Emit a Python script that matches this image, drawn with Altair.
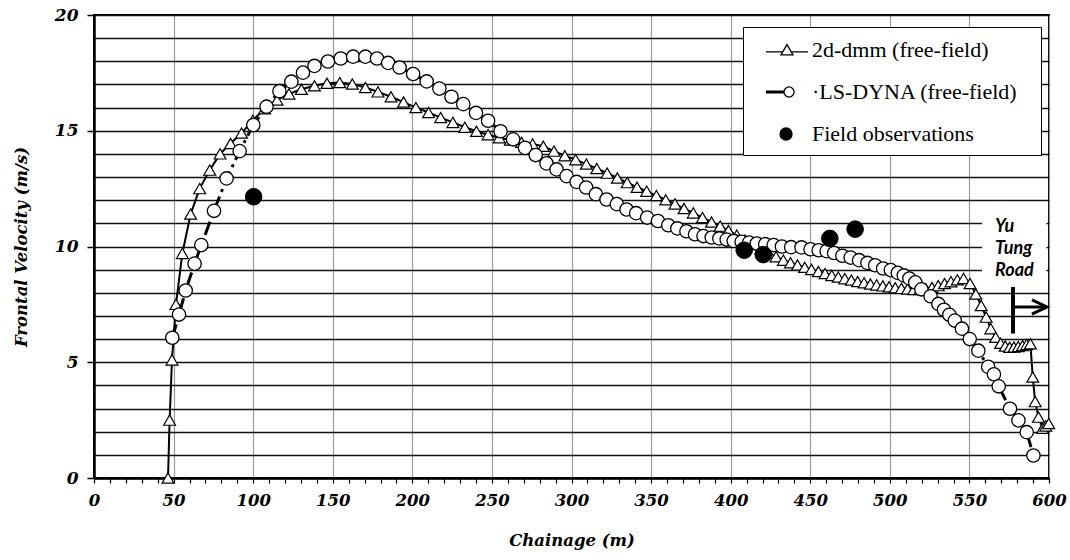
import altair as alt
import pandas as pd

# ---------------- data ----------------
DMM_X = [46.5, 47.5, 49.0, 51.5, 55.5, 60.7, 66.4, 72.7, 79.2, 85.8,
         92.7, 99.8, 107.2, 115.0, 122.5, 130.3, 138.5, 146.4, 154.4, 162.3,
         170.5, 178.4, 186.6, 194.5, 202.2, 210.2, 217.8, 225.5, 233.0, 240.3,
         247.6, 254.6, 261.6, 268.6, 275.5, 282.3, 289.0, 295.8, 302.6, 309.3,
         315.9, 322.4, 328.8, 335.0, 341.2, 347.2, 353.3, 359.2, 365.0, 370.7,
         376.5, 382.3, 388.0, 393.4, 398.6, 403.8, 409.0, 414.0, 419.0, 423.8,
         428.5, 433.1, 437.6, 442.0, 446.5, 450.8, 455.1, 459.3, 463.5, 467.6,
         471.7, 475.8, 479.8, 483.8, 487.8, 491.7, 495.6, 499.5, 503.4, 507.3,
         511.1, 515.0, 518.8, 522.6, 526.5, 530.4, 534.4, 538.4, 542.4, 546.3,
         550.4, 554.0, 557.4, 560.5, 563.4, 566.5, 569.6, 572.5, 575.3, 578.0,
         580.7, 583.4, 586.0, 588.3, 589.8, 591.3, 593.4, 596.0, 598.0, 599.8]
DMM_V = [0.0, 2.5, 5.1, 7.5, 9.7, 11.4, 12.5, 13.3, 14.0, 14.45,
         14.9, 15.45, 15.95, 16.33, 16.59, 16.79, 16.94, 17.05, 17.08, 17.02,
         16.87, 16.68, 16.47, 16.24, 16.0, 15.79, 15.57, 15.36, 15.15, 14.98,
         14.83, 14.7, 14.6, 14.5, 14.43, 14.33, 14.12, 13.92, 13.75, 13.56,
         13.37, 13.17, 12.96, 12.76, 12.56, 12.39, 12.2, 12.02, 11.84, 11.64,
         11.45, 11.25, 11.06, 10.88, 10.69, 10.49, 10.28, 10.08, 9.9, 9.72,
         9.56, 9.41, 9.3, 9.2, 9.1, 9.01, 8.92, 8.83, 8.75, 8.68,
         8.61, 8.55, 8.49, 8.43, 8.38, 8.34, 8.3, 8.26, 8.22, 8.19,
         8.16, 8.14, 8.14, 8.17, 8.23, 8.31, 8.4, 8.48, 8.56, 8.62,
         8.4, 7.95, 7.45, 6.95, 6.45, 6.08, 5.82, 5.7, 5.65, 5.66,
         5.68, 5.72, 5.77, 5.8, 4.36, 3.3, 2.63, 2.15, 2.25, 2.35]

LS_X = [49.2, 53.4, 57.6, 63.2, 67.4, 75.4, 83.3, 91.5, 100.1, 108.4,
        116.5, 124.0, 131.3, 138.5, 147.0, 155.0, 162.8, 170.5, 177.8, 184.8,
        192.0, 200.5, 209.0, 217.0, 224.6, 232.0, 240.0, 247.6, 255.4, 263.3,
        270.8, 277.5, 284.3, 290.6, 296.9, 303.2, 309.2, 315.3, 322.0, 328.5,
        334.6, 340.6, 347.5, 354.3, 360.8, 366.5, 372.2, 377.6, 382.9, 388.1,
        392.9, 397.5, 401.9, 406.9, 411.6, 416.4, 421.7, 427.0, 432.2, 438.0,
        444.5, 450.2, 455.3, 460.3, 465.0, 470.2, 475.4, 480.7, 485.9, 490.8,
        495.8, 500.6, 505.0, 508.8, 512.3, 516.0, 519.8, 525.6, 530.5, 534.0,
        537.4, 540.8, 545.3, 550.2, 555.6, 561.8, 565.4, 568.4, 575.5, 580.8,
        586.0, 590.2]
LS_V = [6.06, 7.06, 8.1, 9.26, 10.06, 11.54, 12.94, 14.12, 15.25, 16.04,
        16.71, 17.12, 17.51, 17.8, 17.99, 18.12, 18.2, 18.2, 18.12, 17.93,
        17.73, 17.45, 17.13, 16.82, 16.47, 16.15, 15.77, 15.43, 14.98, 14.63,
        14.26, 13.95, 13.59, 13.33, 13.04, 12.79, 12.55, 12.26, 12.03, 11.83,
        11.6, 11.44, 11.25, 11.1, 10.92, 10.78, 10.66, 10.53, 10.45, 10.39,
        10.35, 10.3, 10.24, 10.2, 10.17, 10.13, 10.1, 10.06, 10.0, 9.97,
        9.96, 9.88, 9.84, 9.8, 9.72, 9.6, 9.52, 9.41, 9.29, 9.19,
        9.05, 8.98, 8.86, 8.75, 8.62, 8.45, 8.15, 7.85, 7.52, 7.27,
        7.05, 6.8, 6.45, 6.0, 5.5, 4.8, 4.48, 3.96, 2.99, 2.49,
        1.98, 0.97]

OBS_X = [100.3, 408.5, 420.5, 462.3, 478.2]
OBS_V = [12.15, 9.84, 9.65, 10.35, 10.75]

SERIES = ["2d-dmm (free-field)", "LS-DYNA (free-field)", "Field observations"]

X_MAJOR = list(range(0, 601, 50))
X_MINOR = list(range(0, 601, 10))
Y_MAJOR = [0, 5, 10, 15, 20]
Y_GRID = list(range(0, 21))

# annotation ("Yu Tung Road") anchor, in data units
ROAD_TEXT = "Yu\nTung\nRoad"
ROAD_X = 566.1
ROAD_TEXT_Y = 10.83
ROAD_BAR = (577.4, 6.24, 8.25)       # x, y from, y to
ROAD_ARROW = (577.4, 598.5, 7.39)    # x from, x to, y
ROAD_HEAD = (594.0, 7.39)
ROAD_BOX = (557.9, 598.4, 8.5, 11.5)

# ---------------- tables ----------------
dmm = pd.DataFrame({"x": DMM_X, "v": DMM_V})
ls = pd.DataFrame({"x": LS_X, "v": LS_V})
obs = pd.DataFrame({"x": OBS_X, "v": OBS_V})
leg = pd.DataFrame({"series": SERIES})
road_txt = pd.DataFrame({"x": [ROAD_X], "v": [ROAD_TEXT_Y], "t": [ROAD_TEXT]})
road_bar = pd.DataFrame({"x": [ROAD_BAR[0]], "v": [ROAD_BAR[1]], "v2": [ROAD_BAR[2]]})
road_arrow = pd.DataFrame({"x": [ROAD_ARROW[0]], "x2": [ROAD_ARROW[1]], "v": [ROAD_ARROW[2]]})
road_head = pd.DataFrame({"x": [ROAD_HEAD[0]], "v": [ROAD_HEAD[1]]})
road_box = pd.DataFrame({"x": [ROAD_BOX[0]], "x2": [ROAD_BOX[1]], "v": [ROAD_BOX[2]], "v2": [ROAD_BOX[3]]})

SERIF = "Liberation Serif"
BI_FONT = "DejaVu Serif"
XS = alt.Scale(domain=[0, 600], nice=False, zero=False)
YS = alt.Scale(domain=[0, 20], nice=False)

x_main = alt.Axis(values=X_MAJOR, orient="bottom", grid=True, gridColor="#9a9a9a", gridWidth=1.2,
                  ticks=False, labelPadding=14, labelFont=BI_FONT, labelFontSize=16.5,
                  labelFontStyle="italic", labelFontWeight="bold", labelColor="black",
                  labelFlush=False, labelOverlap=False,
                  domain=True, domainColor="black", domainWidth=2.5,
                  title="Chainage (m)", titleFont=BI_FONT, titleFontSize=16.5, titleFontStyle="italic",
                  titleFontWeight="bold", titleColor="black", titlePadding=24)
x_minor = alt.Axis(values=X_MINOR, orient="bottom", grid=False, ticks=True, tickSize=5,
                   tickColor="black", tickWidth=1.2, labels=False, domain=False, title=None)
y_main = alt.Axis(values=Y_GRID, orient="left", grid=True, gridColor="#111111", gridWidth=1.4,
                  ticks=False, labels=False, domain=True, domainColor="black", domainWidth=2.5,
                  title=None)
y_major = alt.Axis(values=Y_MAJOR, orient="left", grid=False, ticks=True, tickSize=7,
                   tickColor="black", tickWidth=1.5, labelPadding=9, labelFont=BI_FONT,
                   labelFontSize=17, labelFontStyle="italic", labelFontWeight="bold",
                   labelColor="black", labelFlush=False, domain=False,
                   title="Frontal Velocity (m/s)", titleFont=BI_FONT, titleFontSize=16.5,
                   titleFontStyle="italic", titleFontWeight="bold", titleColor="black",
                   titlePadding=25)

# white box behind the road label
box = alt.Chart(road_box).mark_rect(fill="white").encode(
    x=alt.X("x:Q", scale=XS, axis=None), x2="x2:Q",
    y=alt.Y("v:Q", scale=YS, axis=None), y2="v2:Q")

dmm_line = alt.Chart(dmm).mark_line(color="black", strokeWidth=2).encode(
    x=alt.X("x:Q", scale=XS, axis=x_main),
    y=alt.Y("v:Q", scale=YS, axis=y_main))
dmm_pts = alt.Chart(dmm).mark_point(shape="triangle-up", size=140, filled=True, fill="white",
                                    stroke="black", strokeWidth=1.2, opacity=1).encode(
    x=alt.X("x:Q", scale=XS, axis=x_minor),
    y=alt.Y("v:Q", scale=YS, axis=y_major))

ls_line = alt.Chart(ls).mark_line(color="black", strokeWidth=3, strokeDash=[14, 5, 3, 5]).encode(
    x=alt.X("x:Q", scale=XS, axis=None),
    y=alt.Y("v:Q", scale=YS, axis=None))
ls_pts = alt.Chart(ls).mark_point(shape="circle", size=178, filled=True, fill="white",
                                  stroke="black", strokeWidth=1.3, opacity=1).encode(
    x=alt.X("x:Q", scale=XS, axis=None),
    y=alt.Y("v:Q", scale=YS, axis=None))

obs_pts = alt.Chart(obs).mark_point(shape="circle", size=275, filled=True, fill="black",
                                    stroke="black", strokeWidth=1, opacity=1).encode(
    x=alt.X("x:Q", scale=XS, axis=None),
    y=alt.Y("v:Q", scale=YS, axis=None))

road_text = alt.Chart(road_txt).mark_text(font="Lato", fontSize=18, fontStyle="italic",
                                          fontWeight="bold", color="black", lineBreak="\n",
                                          lineHeight=22, align="left", baseline="middle").encode(
    x=alt.X("x:Q", scale=XS, axis=None), y=alt.Y("v:Q", scale=YS, axis=None), text="t:N")
road_bar_m = alt.Chart(road_bar).mark_rule(color="black", strokeWidth=4).encode(
    x=alt.X("x:Q", scale=XS, axis=None), y=alt.Y("v:Q", scale=YS, axis=None), y2="v2:Q")
road_arrow_m = alt.Chart(road_arrow).mark_rule(color="black", strokeWidth=3).encode(
    x=alt.X("x:Q", scale=XS, axis=None), x2="x2:Q", y=alt.Y("v:Q", scale=YS, axis=None))
road_head_m = alt.Chart(road_head).mark_point(shape="M-1,-0.95L1,0L-1,0.95", size=225, filled=False,
                                              stroke="black", strokeWidth=3, opacity=1).encode(
    x=alt.X("x:Q", scale=XS, axis=None), y=alt.Y("v:Q", scale=YS, axis=None))


# legend symbols (unit = 12 px, drawn as strokes only)
def ring(cx, r):
    return "M%.3f,0A%.3f,%.3f 0 1,1 %.3f,0A%.3f,%.3f 0 1,1 %.3f,0Z" % (cx + r, r, r, cx - r, r, r, cx + r)


P_TRI = "M0,0.15H1.397M2.103,0.15H3.5M1.75,-0.45L2.25,0.4L1.25,0.4Z"
P_CIR = "M0,-0.07H1.5M0,0.07H1.5M0,0H1.5" + ring(1.92, 0.42)
P_DOT = "".join(ring(1.67, r) for r in (0.5, 0.41, 0.32, 0.23, 0.14, 0.06))
leg_spec = alt.Legend(title="M", titleOrient="right", titleColor="white", titleFontSize=10,
                      titlePadding=4,
                      orient="none", legendX=649, legendY=12, padding=10,
                      fillColor="white", strokeColor="black",
                      symbolSize=576, symbolStrokeWidth=1.3, symbolStrokeColor="black",
                      symbolOpacity=1, labelOffset=33, rowPadding=18,
                      labelFont=SERIF, labelFontSize=22, labelColor="black",
                      labelLimit=400,
                      labelExpr="(datum.label == 'LS-DYNA (free-field)' ? '\u00b7' : '') + datum.label")
legend_layer = alt.Chart(leg).mark_point(opacity=0, filled=False, stroke="black", strokeWidth=1.3).encode(
    x=alt.value(0), y=alt.value(0),
    shape=alt.Shape("series:N", scale=alt.Scale(domain=SERIES, range=[P_TRI, P_CIR, P_DOT]), legend=leg_spec))

chart = alt.layer(
    dmm_line, dmm_pts, box, ls_line, ls_pts, obs_pts,
    road_text, road_bar_m, road_arrow_m, road_head_m, legend_layer
).resolve_axis(x="independent", y="independent").properties(
    width=955, height=463,
    autosize=alt.AutoSizeParams(type="none"),
    padding={"left": 94, "top": 15, "right": 21, "bottom": 82},
    background="white"
).configure_view(stroke="black", strokeWidth=2)

chart.save("out.html", embed_options={"renderer": "svg", "actions": False})
